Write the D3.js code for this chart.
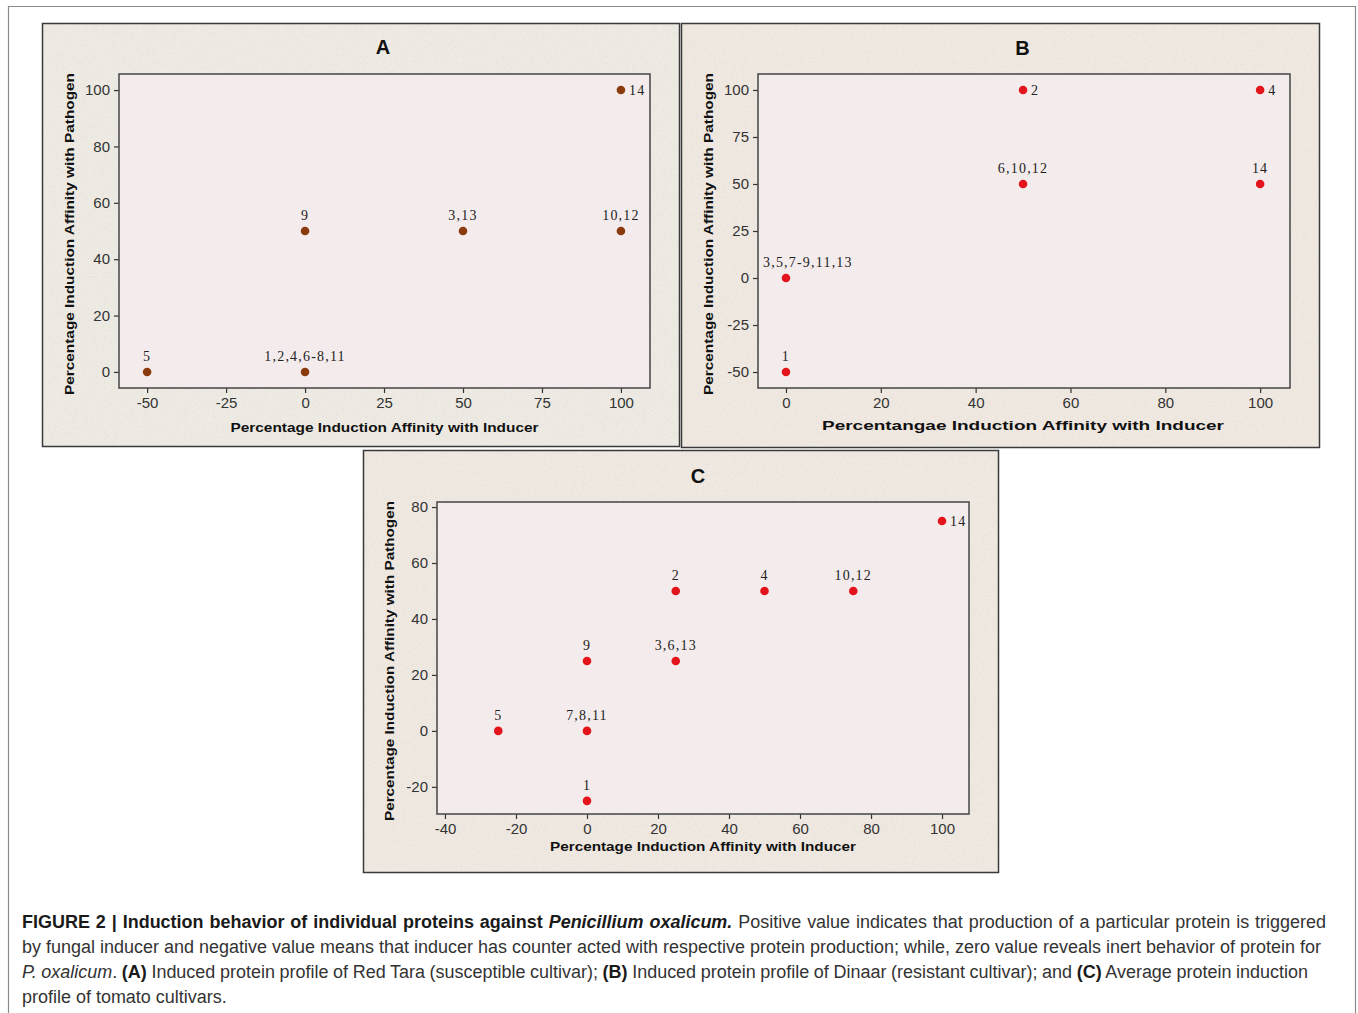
<!DOCTYPE html>
<html><head><meta charset="utf-8">
<script src="https://cdn.jsdelivr.net/npm/d3@7"></script>
<style>
html,body{margin:0;padding:0;background:#fff;}
svg{display:block;}
</style></head>
<body>
<script>
// ---------- DATA ----------
const aX = [-50, 0, 0, 50, 100, 100];
const aY = [0, 0, 50, 50, 50, 100];
const aLabels = ["5", "1,2,4,6-8,11", "9", "3,13", "10,12", "14"];
const aXTicks = [-50, -25, 0, 25, 50, 75, 100];
const aYTicks = [0, 20, 40, 60, 80, 100];

const bX = [0, 0, 50, 100, 50, 100];
const bY = [0, -50, 100, 100, 50, 50];
const bLabels = ["3,5,7-9,11,13", "1", "2", "4", "6,10,12", "14"];
const bXTicks = [0, 20, 40, 60, 80, 100];
const bYTicks = [-50, -25, 0, 25, 50, 75, 100];

const cX = [-25, 0, 0, 0, 25, 25, 50, 75, 100];
const cY = [0, 0, -25, 25, 25, 50, 50, 50, 75];
const cLabels = ["5", "7,8,11", "1", "9", "3,6,13", "2", "4", "10,12", "14"];
const cXTicks = [-40, -20, 0, 20, 40, 60, 80, 100];
const cYTicks = [-20, 0, 20, 40, 60, 80];

const panelTitles = ["A", "B", "C"];
const xTitles = ["Percentage Induction Affinity with Inducer",
                 "Percentangae Induction Affinity with Inducer",
                 "Percentage Induction Affinity with Inducer"];
const yTitle = "Percentage Induction Affinity with Pathogen";

// ---------- LAYOUT ----------
const W = 1358, H = 1013;
const svg = d3.select("body").append("svg").attr("width", W).attr("height", H);

const defs = svg.append("defs");
const f = defs.append("filter").attr("id", "noise").attr("x", 0).attr("y", 0).attr("width", "100%").attr("height", "100%");
f.append("feTurbulence").attr("type", "fractalNoise").attr("baseFrequency", 0.9).attr("numOctaves", 2).attr("seed", 3).attr("result", "t");
f.append("feColorMatrix").attr("in", "t").attr("type", "matrix")
  .attr("values", "0 0 0 0 0.70  0 0 0 0 0.64  0 0 0 0 0.58  1.8 0 0 0 -0.85");

// outer frame
svg.append("path").attr("d", `M8.5,${H+2} L8.5,6.5 L1355.5,6.5 L1355.5,${H+2}`)
  .attr("fill", "none").attr("stroke", "#8a8a8a").attr("stroke-width", 1.2);

const panels = [
  { xs: aX, ys: aY, labels: aLabels, xt: aXTicks, yt: aYTicks,
    box: [42, 23, 680, 447], plot: [119, 74, 650, 388],
    xd: [-58.9, 109.2], yd: [-5.7, 105.7], color: "#8a3a0c", bg: "#eeebe4",
    titleY: 54, xTitleY: 432, xTitleLen: 308, yTitleX: 74, yTitleLen: 322 },
  { xs: bX, ys: bY, labels: bLabels, xt: bXTicks, yt: bYTicks,
    box: [681, 23, 1320, 448], plot: [758, 74, 1290, 388],
    xd: [-5.9, 106.3], yd: [-58.5, 108.5], color: "#e3141c", bg: "#f0e9e1",
    titleY: 55, xTitleY: 430, xTitleLen: 402, yTitleX: 713, yTitleLen: 322 },
  { xs: cX, ys: cY, labels: cLabels, xt: cXTicks, yt: cYTicks,
    box: [363, 450, 999, 873], plot: [437, 502, 969, 814],
    xd: [-42.25, 107.6], yd: [-29.7, 81.8], color: "#e3141c", bg: "#efe9e2",
    titleY: 483, xTitleY: 851, xTitleLen: 306, yTitleX: 394, yTitleLen: 320 }
];

panels.forEach((p, i) => {
  const [bx0, by0, bx1, by1] = p.box;
  const [px0, py0, px1, py1] = p.plot;
  const g = svg.append("g");
  g.append("rect").attr("x", bx0).attr("y", by0).attr("width", bx1 - bx0).attr("height", by1 - by0)
    .attr("fill", p.bg);
  g.append("rect").attr("x", bx0).attr("y", by0).attr("width", bx1 - bx0).attr("height", by1 - by0)
    .attr("filter", "url(#noise)").attr("opacity", 0.6);
  g.append("rect").attr("x", bx0 + 0.5).attr("y", by0 + 0.5).attr("width", bx1 - bx0 - 1).attr("height", by1 - by0 - 1)
    .attr("fill", "none").attr("stroke", "#3a3a3a").attr("stroke-width", 1.5);

  // plot area
  g.append("rect").attr("x", px0).attr("y", py0).attr("width", px1 - px0).attr("height", py1 - py0)
    .attr("fill", "#f4ecec");

  const x = d3.scaleLinear().domain(p.xd).range([px0, px1]);
  const y = d3.scaleLinear().domain(p.yd).range([py1, py0]);

  const fmt = d => String(d);
  const xa = g.append("g").attr("transform", `translate(0,${py1})`)
    .call(d3.axisBottom(x).tickValues(p.xt).tickFormat(fmt).tickSize(5).tickPadding(4).tickSizeOuter(0));
  const ya = g.append("g").attr("transform", `translate(${px0},0)`)
    .call(d3.axisLeft(y).tickValues(p.yt).tickFormat(fmt).tickSize(5).tickPadding(4).tickSizeOuter(0));
  [xa, ya].forEach(a => {
    a.select(".domain").remove();
    a.selectAll("line").attr("stroke", "#333").attr("stroke-width", 1.2);
    a.selectAll("text").attr("fill", "#333").style("font-family", "'Liberation Sans Narrow','Liberation Sans',sans-serif")
      .style("font-size", "15px");
  });

  g.append("rect").attr("x", px0).attr("y", py0).attr("width", px1 - px0).attr("height", py1 - py0)
    .attr("fill", "none").attr("stroke", "#444").attr("stroke-width", 1.5);

  // title
  g.append("text").attr("x", (bx0 + bx1) / 2 + (i === 2 ? 17 : 22)).attr("y", p.titleY)
    .attr("text-anchor", "middle").style("font-family", "'Liberation Sans',Arial,sans-serif")
    .style("font-weight", "bold").style("font-size", "20px").attr("fill", "#111").text(panelTitles[i]);

  // axis titles
  g.append("text").attr("x", (px0 + px1) / 2 + (i === 1 ? -1 : 0)).attr("y", p.xTitleY).attr("text-anchor", "middle")
    .attr("textLength", p.xTitleLen).attr("lengthAdjust", "spacingAndGlyphs")
    .style("font-family", "'Liberation Sans',Arial,sans-serif").style("font-weight", "bold").style("font-size", "13px")
    .attr("fill", "#111").text(xTitles[i]);
  g.append("text").attr("transform", `translate(${p.yTitleX},${(py0 + py1) / 2 + 3}) rotate(-90)`)
    .attr("text-anchor", "middle").attr("textLength", p.yTitleLen).attr("lengthAdjust", "spacingAndGlyphs")
    .style("font-family", "'Liberation Sans',Arial,sans-serif").style("font-weight", "bold").style("font-size", "12.5px")
    .attr("fill", "#111").text(yTitle);

  // points
  const data = p.xs.map((v, k) => ({ x: v, y: p.ys[k], label: p.labels[k] }));
  const yMax = d3.max(p.ys);
  g.selectAll("circle.pt").data(data).join("circle").attr("class", "pt")
    .attr("cx", d => x(d.x)).attr("cy", d => y(d.y)).attr("r", 4.3).attr("fill", p.color);
  const lbl = g.selectAll("text.lbl").data(data).join("text").attr("class", "lbl")
    .attr("x", d => d.y === yMax ? x(d.x) + 8 : x(d.x))
    .attr("y", d => d.y === yMax ? y(d.y) + 5 : y(d.y) - 11)
    .attr("text-anchor", d => d.y === yMax ? "start" : "middle")
    .style("font-family", "'Liberation Serif','Times New Roman',serif").style("font-size", "14px")
    .style("letter-spacing", "1.2px").attr("fill", "#222").text(d => d.label);
  // keep labels inside the plot area
  lbl.each(function (d) {
    if (d.y === yMax) return;
    const w = this.getComputedTextLength();
    const cx = x(d.x);
    if (cx - w / 2 < px0 + 4) {
      d3.select(this).attr("text-anchor", "start").attr("x", px0 + 5);
    }
  });
});

// ---------- CAPTION ----------
const capLines = [
  [["b", "FIGURE 2 | Induction behavior of individual proteins against "], ["bi", "Penicillium oxalicum."], ["r", " Positive value indicates that production of a particular protein is triggered"]],
  [["r", "by fungal inducer and negative value means that inducer has counter acted with respective protein production; while, zero value reveals inert behavior of protein for"]],
  [["i", "P. oxalicum"], ["r", ". "], ["b", "(A)"], ["r", " Induced protein profile of Red Tara (susceptible cultivar); "], ["b", "(B)"], ["r", " Induced protein profile of Dinaar (resistant cultivar); and "], ["b", "(C)"], ["r", " Average protein induction"]],
  [["r", "profile of tomato cultivars."]]
];
const capTargets = [1304, 1299, 1286, null];
const capFont = "'Liberation Sans',Arial,sans-serif";
const capTexts = capLines.map((parts, k) => {
  const t = svg.append("text").attr("x", 22).attr("y", 928 + k * 25)
    .style("font-family", capFont).style("font-size", "17px").attr("fill", "#333");
  parts.forEach(([s, txt]) => {
    t.append("tspan").style("font-weight", s.includes("b") ? "bold" : "normal")
      .style("font-style", s.includes("i") ? "italic" : "normal")
      .attr("fill", s.includes("b") ? "#1a1a1a" : "#333").text(txt);
  });
  return t;
});
// fit font size so the second (plain) line spans the measured width
const w2 = capTexts[1].node().getComputedTextLength();
const fs = 17 * 1299 / w2;
capTexts.forEach(t => t.style("font-size", fs + "px"));
// justify the full lines with word spacing
capTexts.forEach((t, k) => {
  const target = capTargets[k];
  if (!target) return;
  const txt = t.text();
  const spaces = (txt.match(/ /g) || []).length;
  const w = t.node().getComputedTextLength();
  const ws = (target - w) / spaces;
  if (Math.abs(ws) > 0.05) t.style("word-spacing", ws + "px");
});
</script>
</body></html>
